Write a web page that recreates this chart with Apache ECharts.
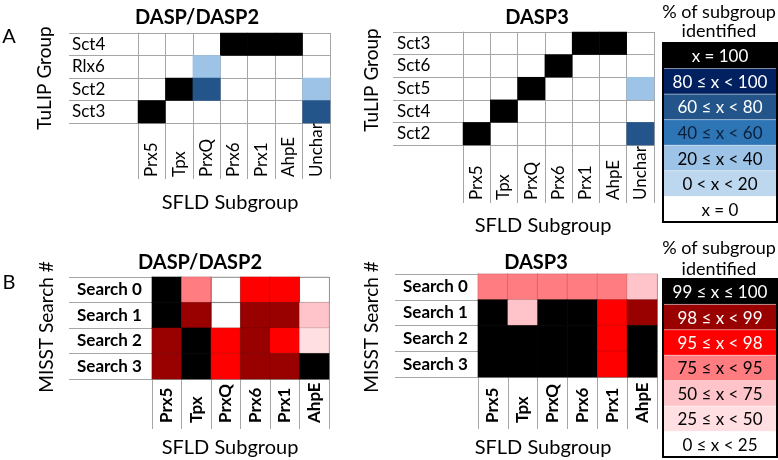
<!DOCTYPE html>
<html><head><meta charset="utf-8">
<script src="https://cdn.jsdelivr.net/npm/echarts@6/dist/echarts.min.js"></script>
<style>html,body{margin:0;padding:0;background:#fff}#c{width:778px;height:460px}</style>
</head><body><div id="c"></div>
<script>
// ---- data ----
const sfldA = ['Prx5','Tpx','PrxQ','Prx6','Prx1','AhpE','Unchar'];
const tulipA1 = ['Sct4','Rlx6','Sct2','Sct3'];
const tulipA2 = ['Sct3','Sct6','Sct5','Sct4','Sct2'];
// % of subgroup identified (rows = TuLIP groups, columns = sfldA)
const pctA1 = [
  [0,0,0,100,100,100,0],
  [0,0,30,0,0,0,0],
  [0,100,70,0,0,0,30],
  [100,0,0,0,0,0,70]
];
const pctA2 = [
  [0,0,0,0,100,100,0],
  [0,0,0,100,0,0,0],
  [0,0,100,0,0,0,30],
  [0,100,0,0,0,0,0],
  [100,0,0,0,0,0,65]
];
const sfldB = ['Prx5','Tpx','PrxQ','Prx6','Prx1','AhpE'];
const searches = ['Search 0','Search 1','Search 2','Search 3'];
const pctB1 = [
  [99.5,85,10,96.5,96.5,10],
  [99.5,98.5,10,98.5,98.5,62],
  [98.5,99.5,96.5,98.5,96.5,37],
  [98.5,99.5,96.5,98.5,98.5,99.5]
];
const pctB2 = [
  [85,85,85,85,85,62],
  [99.5,62,99.5,99.5,96.5,98.5],
  [99.5,99.5,99.5,99.5,96.5,99.5],
  [99.5,99.5,99.5,99.5,96.5,99.5]
];
const legendA = ['x = 100','80 ≤ x < 100','60 ≤ x < 80','40 ≤ x < 60','20 ≤ x < 40','0 < x < 20','x = 0'];
const legendB = ['99 ≤ x ≤ 100','98 ≤ x < 99','95 ≤ x < 98','75 ≤ x < 95','50 ≤ x < 75','25 ≤ x < 50','0 ≤ x < 25'];

// ---- styles ----
const FONT = 'Lato, "Open Sans", "DejaVu Sans", sans-serif';
const LINE = '#a6a6a6';
const NONE = 'rgba(255,255,255,0)';
const bluePieces = [
  {value:100, color:'#000000'},
  {gte:80, lt:100, color:'#002060'},
  {gte:60, lt:80, color:'#24558a'},
  {gte:40, lt:60, color:'#2e75b6'},
  {gte:20, lt:40, color:'#9dc3e6'},
  {gt:0, lt:20, color:'#bdd7ee'},
  {value:0, color:NONE}
];
const redPieces = [
  {gte:99, lte:100, color:'#000000'},
  {gte:98, lt:99, color:'#990000'},
  {gte:95, lt:98, color:'#ff0000'},
  {gte:75, lt:95, color:'#ff7c80'},
  {gte:50, lt:75, color:'#ffc4ca'},
  {gte:25, lt:50, color:'#ffdfe2'},
  {gte:0, lt:25, color:NONE}
];
const legendTextA = ['#fff','#fff','#fff','#0b1f3a','#000','#000','#000'];
const legendTextB = ['#fff','#fff','#fff','#000','#000','#000','#000'];

function toCells(m){
  const out = [];
  m.forEach((row, y) => row.forEach((v, x) => out.push([x, y, v])));
  return out;
}

const grids = [
  {left:138, top:33, width:192, height:90},
  {left:463, top:32, width:191, height:113},
  {left:152, top:277, width:177, height:102},
  {left:478, top:274, width:179, height:103}
];
const xTick = [56, 58, 50, 52];
const xMargin = [54, 55, 44, 46];
const yTick = [69, 70, 83, 83];
const yMargin = [66, 66, 75, 75];
const xCats = [sfldA, sfldA, sfldB, sfldB];
const yCats = [tulipA1, tulipA2, searches, searches];
const bold = [false, false, true, true];

const xAxis = [], yAxis = [];
for (let i = 0; i < 4; i++) {
  xAxis.push({
    gridIndex:i, type:'category', data:xCats[i], position:'bottom',
    axisLine:{show:true, lineStyle:{color:LINE, width:1}},
    axisTick:{show:true, interval:0, length:xTick[i], lineStyle:{color:LINE, width:1}},
    splitLine:{show:true, interval:0, lineStyle:{color:LINE, width:1}},
    axisLabel:{interval:0, rotate:90, align:'left', verticalAlign:'middle', margin:xMargin[i],
      fontSize:17, fontFamily:FONT, fontWeight: bold[i] ? 'bold' : 'normal', color:'#000'}
  });
  yAxis.push({
    gridIndex:i, type:'category', data:yCats[i], inverse:true,
    axisLine:{show:true, lineStyle:{color:LINE, width:1}},
    axisTick:{show:true, interval:0, length:yTick[i], lineStyle:{color:LINE, width:1}},
    splitLine:{show:true, interval:0, lineStyle:{color:LINE, width:1}},
    axisLabel:{interval:0, align:'left', margin:yMargin[i],
      fontSize:17, fontFamily:FONT, fontWeight: bold[i] ? 'bold' : 'normal', color:'#000'}
  });
}

const mats = [pctA1, pctA2, pctB1, pctB2];
const series = mats.map((m, i) => ({
  type:'heatmap', xAxisIndex:i, yAxisIndex:i, data:toCells(m),
  itemStyle: i >= 2 ? {borderColor:'rgba(0,0,0,0.13)', borderWidth:1} : {borderWidth:0},
  emphasis:{disabled:true}, animation:false
}));

function txt(t, x, y, size, weight, rot){
  return {type:'text', x:x, y:y, rotation: rot || 0, z:10,
    style:{text:t, fontSize:size, fontWeight:weight||'normal', fontFamily:FONT, fill:'#000',
      align:'center', verticalAlign:'middle'}};
}
const graphic = [
  txt('A', 9, 37, 20),
  txt('B', 9, 283, 20),
  txt('DASP/DASP2', 197, 18, 20, 'bold'),
  txt('DASP3', 537, 18, 20, 'bold'),
  txt('DASP/DASP2', 200, 263, 20, 'bold'),
  txt('DASP3', 536, 263, 20, 'bold'),
  txt('TuLIP Group', 45, 78, 19, 'normal', Math.PI/2),
  txt('TuLIP Group', 372, 80, 19, 'normal', Math.PI/2),
  txt('MISST Search #', 47, 327, 19, 'normal', Math.PI/2),
  txt('MISST Search #', 372, 327, 19, 'normal', Math.PI/2),
  txt('SFLD Subgroup', 230, 203, 20),
  txt('SFLD Subgroup', 543, 226, 20),
  txt('SFLD Subgroup', 230, 448, 20),
  txt('SFLD Subgroup', 543, 448, 20),
  txt('% of subgroup', 719, 12, 18),
  txt('identified', 719, 31, 18),
  txt('% of subgroup', 719, 248, 18),
  txt('identified', 719, 269, 18)
];
function legendBlock(labels, pieces, tcolors, top, bottom){
  const left = 663, right = 777, h = (bottom - top) / labels.length;
  labels.forEach((l, i) => {
    const fill = pieces[i].color === NONE ? '#ffffff' : pieces[i].color;
    graphic.push({type:'rect', z:5, shape:{x:left, y:top + i*h, width:right-left, height:h},
      style:{fill:fill, stroke:'rgba(255,255,255,0.3)', lineWidth:1}});
    graphic.push({type:'text', z:6, x:(left+right)/2, y:top + i*h + h/2 + 1,
      style:{text:l, fontSize:17, fontFamily:FONT, fill:tcolors[i], align:'center', verticalAlign:'middle'}});
  });
  graphic.push({type:'rect', z:7, shape:{x:left, y:top, width:right-left, height:bottom-top},
    style:{fill:'none', stroke:'#000', lineWidth:2}});
}
legendBlock(legendA, bluePieces, legendTextA, 43, 222);
legendBlock(legendB, redPieces, legendTextB, 279, 457);

const chart = echarts.init(document.getElementById('c'), null, {renderer:'canvas'});
chart.setOption({
  animation:false,
  backgroundColor:'#fff',
  grid: grids,
  xAxis: xAxis,
  yAxis: yAxis,
  visualMap: [
    {type:'piecewise', show:false, seriesIndex:[0,1], dimension:2, pieces:bluePieces},
    {type:'piecewise', show:false, seriesIndex:[2,3], dimension:2, pieces:redPieces}
  ],
  series: series,
  graphic: graphic
});
</script></body></html>
